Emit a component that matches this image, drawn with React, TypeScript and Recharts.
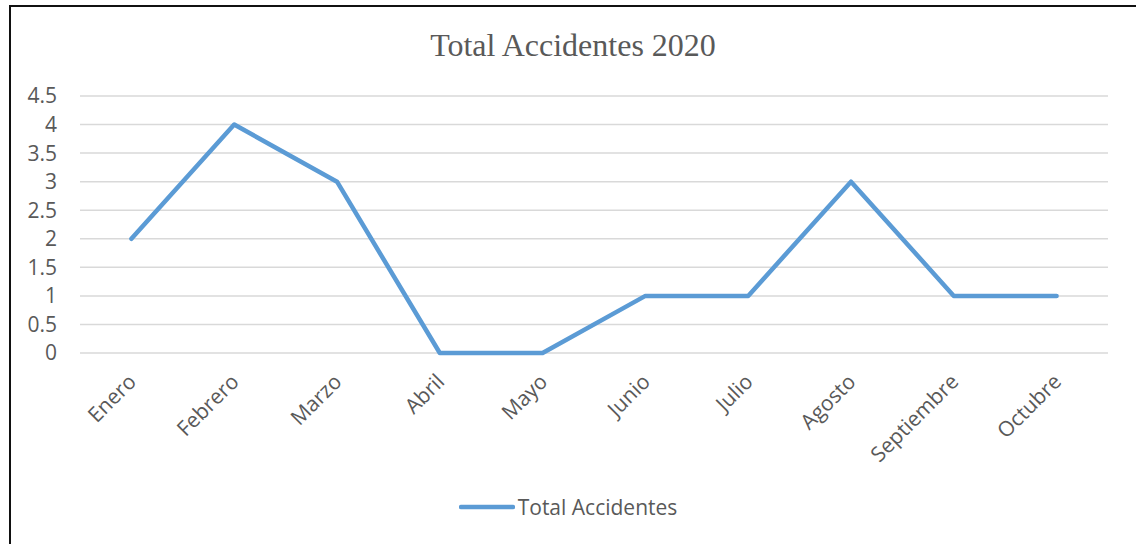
import { LineChart, Line, XAxis, YAxis, CartesianGrid, Legend } from "recharts";

const months = ["Enero", "Febrero", "Marzo", "Abril", "Mayo", "Junio", "Julio", "Agosto", "Septiembre", "Octubre"];
const accidents = [2, 4, 3, 0, 0, 1, 1, 3, 1, 1];
const yTicks = [0, 0.5, 1, 1.5, 2, 2.5, 3, 3.5, 4, 4.5];

const seriesName = "Total Accidentes";
const lineColor = "#5b9bd5";
const textColor = "#595959";
const font = "'Open Sans', sans-serif";
const fontSize = 21;

const MonthTick = (props: any) => {
    const { x, y, payload } = props;
    return (
        <text
            transform={`translate(${x + 6},${y + 22}) rotate(-45)`}
            textAnchor="end"
            fill={textColor}
            fontSize={fontSize}
            fontFamily={font}
        >
            {payload.value}
        </text>
    );
};

const LegendContent = () => (
    <div style={{ display: 'flex', justifyContent: 'center', alignItems: 'center', fontFamily: font, fontSize, color: textColor }}>
        <svg width={56} height={10} style={{ marginRight: 3 }}>
            <line x1={2} y1={5} x2={54} y2={5} stroke={lineColor} strokeWidth={4.5} strokeLinecap="round" />
        </svg>
        <span>{seriesName}</span>
    </div>
);

export default function App() {
    const data = months.map((m, i) => ({ month: m, total: accidents[i] }));

    return (
        <div style={{ position: 'fixed', left: 0, top: 0, width: 1136, height: 544, background: '#fff' }}>
            <div style={{ position: 'absolute', left: 9, top: 5, width: 1127, height: 539, borderLeft: '2px solid #111', borderTop: '2px solid #111' }} />
            <div style={{ position: 'absolute', left: 0, top: 29, width: 1146, textAlign: 'center', fontFamily: "'Liberation Serif', serif", fontSize: 32, lineHeight: '32px', color: textColor }}>
                Total Accidentes 2020
            </div>
            <LineChart width={1136} height={544} data={data} margin={{ top: 96, right: 28, bottom: 91, left: 10 }}>
                <CartesianGrid vertical={false} stroke="#d9d9d9" strokeWidth={1.5} />
                <XAxis
                    dataKey="month"
                    axisLine={false}
                    tickLine={false}
                    interval={0}
                    height={100}
                    padding={{ left: 51.4, right: 51.4 }}
                    tick={<MonthTick />}
                />
                <YAxis
                    domain={[0, 4.5]}
                    ticks={yTicks}
                    interval={0}
                    axisLine={false}
                    tickLine={false}
                    width={70}
                    tickMargin={17}
                    tick={{ fill: textColor, fontSize, fontFamily: font }}
                />
                <Legend
                    layout="horizontal"
                    verticalAlign="middle"
                    align="center"
                    wrapperStyle={{ top: 493, left: 0, width: 1136 }}
                    content={<LegendContent />}
                />
                <Line
                    type="linear"
                    dataKey="total"
                    name={seriesName}
                    stroke={lineColor}
                    strokeWidth={4.5}
                    dot={false}
                    activeDot={false}
                    strokeLinejoin="round"
                    strokeLinecap="round"
                    isAnimationActive={false}
                />
            </LineChart>
        </div>
    );
}
